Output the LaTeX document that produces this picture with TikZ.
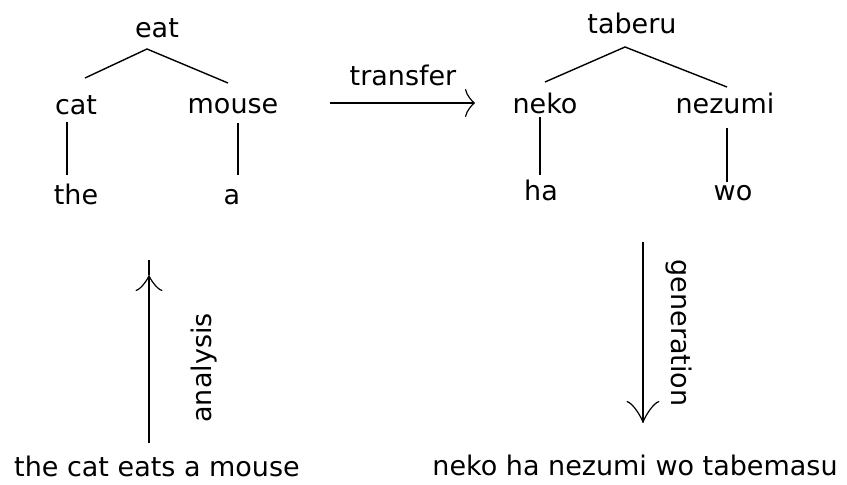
\documentclass[tikz,border=0pt]{standalone}
\usepackage{fontspec}
\setmainfont{DejaVu Sans}
\usetikzlibrary{arrows.meta,calc}
\begin{document}
\begin{tikzpicture}[x=1pt,y=-1pt,
  word/.style={inner sep=0pt,anchor=base,font=\fontsize{27}{32}\selectfont},
  edge/.style={line width=1.4pt},
  flow/.style={line width=1.5pt},
  tip/.style={-{Classical TikZ Rightarrow[length=#1]}},
]
\useasboundingbox[fill=white] (0,0) rectangle (847,485);

% English dependency tree
\node[word] (eat)   at (157,37)  {eat};
\node[word] (cat)   at (76,114)  {cat};
\node[word] (mouse) at (233,113) {mouse};
\node[word] (the)   at (76,204)  {the};
\node[word] (a)     at (232,204) {a};
\coordinate (eatTop) at (147,49);
\coordinate (catUp)  at (85,78);
\coordinate (mouseUp) at (228,83);
\coordinate (catDn)  at (67,122);
\coordinate (theUp)  at (67,175);
\coordinate (mouseDn) at (238,123);
\coordinate (aUp)    at (238,175);
\draw[edge] (catUp) -- (eatTop) -- (mouseUp);
\draw[edge] (catDn) -- (theUp);
\draw[edge] (mouseDn) -- (aUp);

% Japanese dependency tree
\node[word] (taberu) at (632,33)  {taberu};
\node[word] (neko)   at (545,113) {neko};
\node[word] (nezumi) at (725,113) {nezumi};
\node[word] (ha)     at (541,200) {ha};
\node[word] (wo)     at (733,200) {wo};
\coordinate (taberuTop) at (625,47);
\coordinate (nekoUp)    at (545,82);
\coordinate (nezumiUp)  at (727,87);
\coordinate (nekoDn)    at (540,117);
\coordinate (haUp)      at (540,175);
\coordinate (nezumiDn)  at (727,128);
\coordinate (woUp)      at (727,182);
\draw[edge] (nekoUp) -- (taberuTop) -- (nezumiUp);
\draw[edge] (nekoDn) -- (haUp);
\draw[edge] (nezumiDn) -- (woUp);

% transfer step
\node[word] (transfer) at (403,85) {transfer};
\coordinate (trL) at (330,103);
\coordinate (trR) at (475,103);
\draw[flow,-{Classical TikZ Rightarrow[length=10pt,width=28pt]}] (trL) -- (trR);

% analysis step
\node[word] (src) at (157,476) {the cat eats a mouse};
\node[word,rotate=90] (analysis) at (211,368) {analysis};
\coordinate (anBot)  at (149,443);
\coordinate (anHead) at (149,275);
\coordinate (anTop)  at (149,260);
\draw[flow,-{Classical TikZ Rightarrow[length=16pt,width=27pt]}] (anBot) -- (anHead);
\draw[flow] (anHead) -- (anTop);

% generation step
\node[word] (tgt) at (635,475) {neko ha nezumi wo tabemasu};
\node[word,rotate=-90] (generation) at (671,333) {generation};
\coordinate (genTop) at (643,242);
\coordinate (genBot) at (643,423);
\draw[flow,-{Classical TikZ Rightarrow[length=22pt,width=33pt]}] (genTop) -- (genBot);
\end{tikzpicture}
\end{document}
